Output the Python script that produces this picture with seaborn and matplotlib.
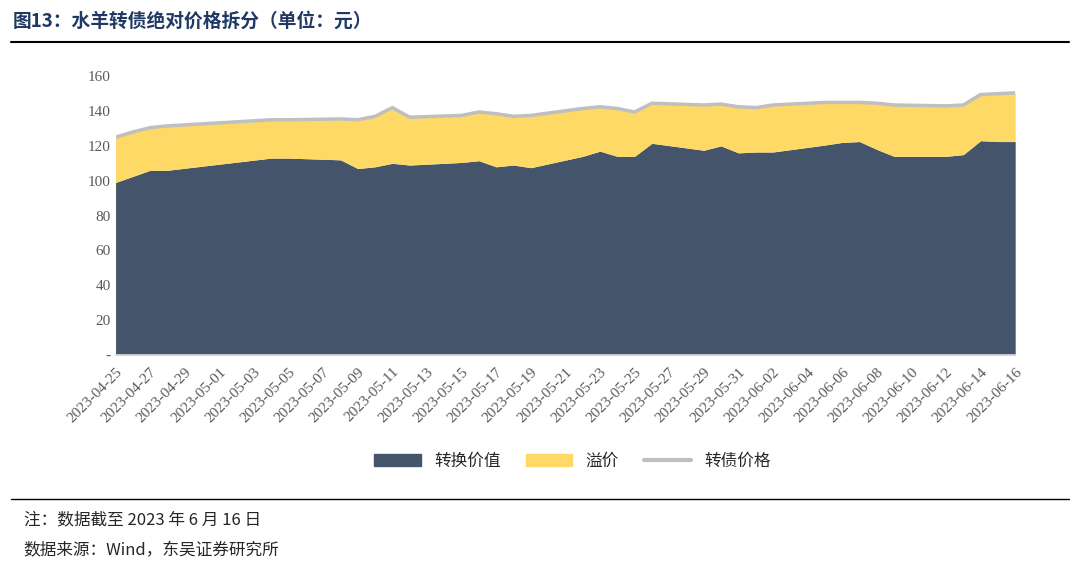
import pandas as pd
import numpy as np
import seaborn as sns
import matplotlib.pyplot as plt
import matplotlib.dates as mdates
from matplotlib.patches import Patch
from matplotlib.lines import Line2D

dates = ['2023-04-25', '2023-04-26', '2023-04-27', '2023-04-28',
         '2023-05-04', '2023-05-05', '2023-05-08', '2023-05-09', '2023-05-10', '2023-05-11', '2023-05-12',
         '2023-05-15', '2023-05-16', '2023-05-17', '2023-05-18', '2023-05-19',
         '2023-05-22', '2023-05-23', '2023-05-24', '2023-05-25', '2023-05-26',
         '2023-05-29', '2023-05-30', '2023-05-31', '2023-06-01', '2023-06-02',
         '2023-06-05', '2023-06-06', '2023-06-07', '2023-06-08', '2023-06-09',
         '2023-06-12', '2023-06-13', '2023-06-14', '2023-06-15', '2023-06-16']
conv_value = [99, 102.5, 106, 106,
              113, 113, 112, 107, 108, 110, 109,
              110.5, 111.5, 108, 109, 107.5,
              114, 117, 114, 114, 121.5,
              117.5, 120, 116, 116.5, 116.5,
              120.5, 122, 122.5, 118, 114,
              114, 115, 123, 122.5, 122.5]
bond_price = [125, 128, 130.5, 131.5,
              135, 135, 135.5, 135, 137, 142, 136.5,
              137.5, 139.5, 138.5, 137, 137.5,
              141.5, 142.5, 141.5, 139.5, 144.5,
              143.5, 144, 142.5, 142, 143.5,
              145, 145, 145, 144.5, 143.5,
              143, 143.5, 149.5, 150, 150.5]

df = pd.DataFrame({'date': pd.to_datetime(dates), 'conv': conv_value, 'price': bond_price})
df['premium'] = df['price'] - df['conv']

sns.set_theme(style='white')
plt.rcParams['font.family'] = ['Liberation Serif', 'Noto Sans CJK SC']

navy = '#44546a'
yellow = '#ffd966'
gray = '#bfbfbf'

fig = plt.figure(figsize=(10.8, 5.65), dpi=100)
ax = fig.add_axes([0.107, 0.372, 0.833, 0.493])
ax.stackplot(df['date'], df['conv'], df['premium'], colors=[navy, yellow], linewidth=0)
sns.lineplot(data=df, x='date', y='price', ax=ax, color=gray, linewidth=2.5)

ax.set_ylim(0, 160)
ax.set_yticks(range(0, 161, 20))
ax.set_yticklabels(['-'] + [str(v) for v in range(20, 161, 20)])
ax.set_xlim(df['date'].iloc[0], df['date'].iloc[-1])
ticks = pd.date_range('2023-04-25', '2023-06-16', freq='2D')
ax.set_xticks(ticks)
ax.set_xticklabels([t.strftime('%Y-%m-%d') for t in ticks], rotation=45, ha='right',
                   rotation_mode='anchor')
ax.tick_params(axis='both', labelsize=11, colors='#595959', length=0)
ax.tick_params(axis='x', length=4, color='#d9d9d9', direction='out')
ax.set_xlabel('')
ax.set_ylabel('')
for s in ['top', 'right', 'left']:
    ax.spines[s].set_visible(False)
ax.spines['bottom'].set_color('#d9d9d9')

handles = [Patch(color=navy), Patch(color=yellow), Line2D([0], [0], color=gray, lw=3)]
fig.legend(handles, ['转换价值', '溢价', '转债价格'], loc='center', bbox_to_anchor=(0.53, 0.183),
           ncol=3, frameon=False, fontsize=12, handlelength=2.8, columnspacing=1.5,
           prop={'family': 'Noto Sans CJK SC', 'size': 12})

fig.text(0.012, 0.963, '图13：水羊转债绝对价格拆分（单位：元）', fontsize=13.5, fontweight='bold',
         color='#1f3864', family='Noto Sans CJK SC', va='center')
fig.add_artist(Line2D([0.01, 0.99], [0.925, 0.925], color='black', lw=1.5))
fig.add_artist(Line2D([0.01, 0.99], [0.117, 0.117], color='black', lw=1))
fig.text(0.022, 0.08, '注：数据截至 2023 年 6 月 16 日', fontsize=12, family='Noto Sans CJK SC', va='center')
fig.text(0.022, 0.025, '数据来源：Wind，东吴证券研究所', fontsize=12, family='Noto Sans CJK SC', va='center')

fig.savefig('out.png', dpi=100)
